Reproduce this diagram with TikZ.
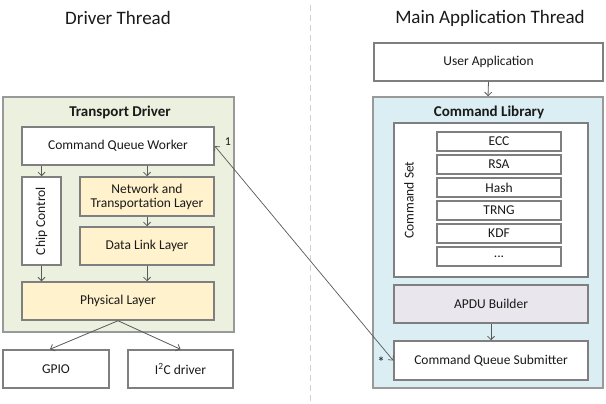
\documentclass[tikz,border=0pt]{standalone}
\usepackage{fontspec}
\setmainfont{Carlito}
\usetikzlibrary{arrows.meta,calc}
\definecolor{bordc}{HTML}{7F7F7F}
\definecolor{greenf}{HTML}{EBF1DE}
\definecolor{bluef}{HTML}{DAEEF3}
\definecolor{yellowf}{HTML}{FFF2CC}
\definecolor{lavf}{HTML}{EAE6EE}
\definecolor{arrc}{HTML}{595959}
\definecolor{dashc}{HTML}{D0D0D0}
\definecolor{txtc}{HTML}{1A1A1A}
\begin{document}
\begin{tikzpicture}[x=1pt,y=-1pt,
  box/.style={draw=bordc, line width=1.5pt, fill=white, minimum width=#1, inner sep=0pt, align=center, text=txtc, font=\fontsize{13.5}{15}\selectfont},
  box/.default=192pt,
  container/.style={draw=bordc!80, line width=1.5pt, inner sep=0pt},
  arr/.style={draw=arrc, line width=0.8pt, -{Straight Barb[length=3.5pt,width=7pt]}},
  ttl/.style={font=\fontsize{19}{22}\selectfont, text=txtc},
  btl/.style={font=\bfseries\fontsize{15}{18}\selectfont, text=txtc},
  lbl/.style={font=\fontsize{12}{14}\selectfont, text=txtc}
]
\useasboundingbox[fill=white] (0,0) rectangle (606,404);
% titles and divider
\node[ttl] (tl) at (118,18) {Driver Thread};
\node[ttl] (tr) at (490,18) {Main Application Thread};
\coordinate (dtop) at (310,5);
\coordinate (dbot) at (310,402);
\draw[dashc, line width=1pt, dash pattern=on 6pt off 4pt] (dtop) -- (dbot);
% left side
\node[container, fill=greenf, minimum width=231pt, minimum height=235pt] (td) at (118.5,214.5) {};
\node[btl] (tdl) at (120,112) {Transport Driver};
\node[box, minimum height=38pt] (cqw) at (118,146) {Command Queue Worker};
\node[box=39pt, minimum height=88pt] (chip) at (41.5,221) {};
\node[font=\fontsize{13.5}{15}\selectfont, text=txtc, rotate=90] (chipl) at (41.5,221) {Chip Control};
\node[box=134pt, minimum height=39pt, fill=yellowf] (ntl) at (147,196.5) {Network and\\[-1pt]Transportation Layer};
\node[box=134pt, minimum height=38pt, fill=yellowf] (dll) at (147,246) {Data Link Layer};
\node[box, minimum height=38pt, fill=yellowf] (phys) at (118,301) {Physical Layer};
\node[box=106pt, minimum height=38pt] (gpio) at (56,369) {GPIO};
\node[box=105pt, minimum height=38pt] (i2c) at (180.5,369) {I\textsuperscript{2}C driver};
% right side
\node[box=229pt, minimum height=38pt] (ua) at (488.5,62) {User Application};
\node[container, fill=bluef, minimum width=230pt, minimum height=291pt] (cl) at (488,242.5) {};
\node[btl] (cll) at (489,112) {Command Library};
\node[box=194pt, minimum height=154pt] (cs) at (491,200) {};
\node[font=\fontsize{13.5}{15}\selectfont, text=txtc, rotate=90] (csl) at (409,200) {Command Set};
\node[box=124pt, minimum height=19pt] (ecc) at (499,141.5) {ECC};
\node[box=124pt, minimum height=19pt] (rsa) at (499,164.5) {RSA};
\node[box=124pt, minimum height=19pt] (hash) at (499,187.5) {Hash};
\node[box=124pt, minimum height=19pt] (trng) at (499,210.5) {TRNG};
\node[box=124pt, minimum height=19pt] (kdf) at (499,233.5) {KDF};
\node[box=124pt, minimum height=19pt] (dots) at (499,256.5) {...};
\node[box=194pt, minimum height=38pt, fill=lavf] (apdu) at (491,304) {APDU Builder};
\node[box=194pt, minimum height=39pt] (cqs) at (491,360.5) {Command Queue Submitter};
% connectors
\draw[arr] (ua.south) -- (cl.north);
\draw[arr] (chip.north |- cqw.south) -- (chip.north);
\draw[arr] (ntl.north |- cqw.south) -- (ntl.north);
\draw[arr] (ntl.south) -- (dll.north);
\draw[arr] (chip.south) -- (chip.south |- phys.north);
\draw[arr] (dll.south) -- (dll.south |- phys.north);
\draw[arr] (phys.south) -- ([xshift=-6pt]gpio.north);
\draw[arr] (phys.south) -- (i2c.north);
\draw[arr] (apdu.south) -- (cqs.north);
\draw[arrc, line width=0.7pt, {Straight Barb[length=3.5pt,width=7pt]}-{Straight Barb[length=3.5pt,width=7pt]}] (cqw.east) -- (cqs.west);
\node[lbl] (m1) at (228,142) {1};
\node[font=\fontsize{15}{16}\selectfont, text=txtc] (m2) at (381,362) {*};
\end{tikzpicture}
\end{document}
